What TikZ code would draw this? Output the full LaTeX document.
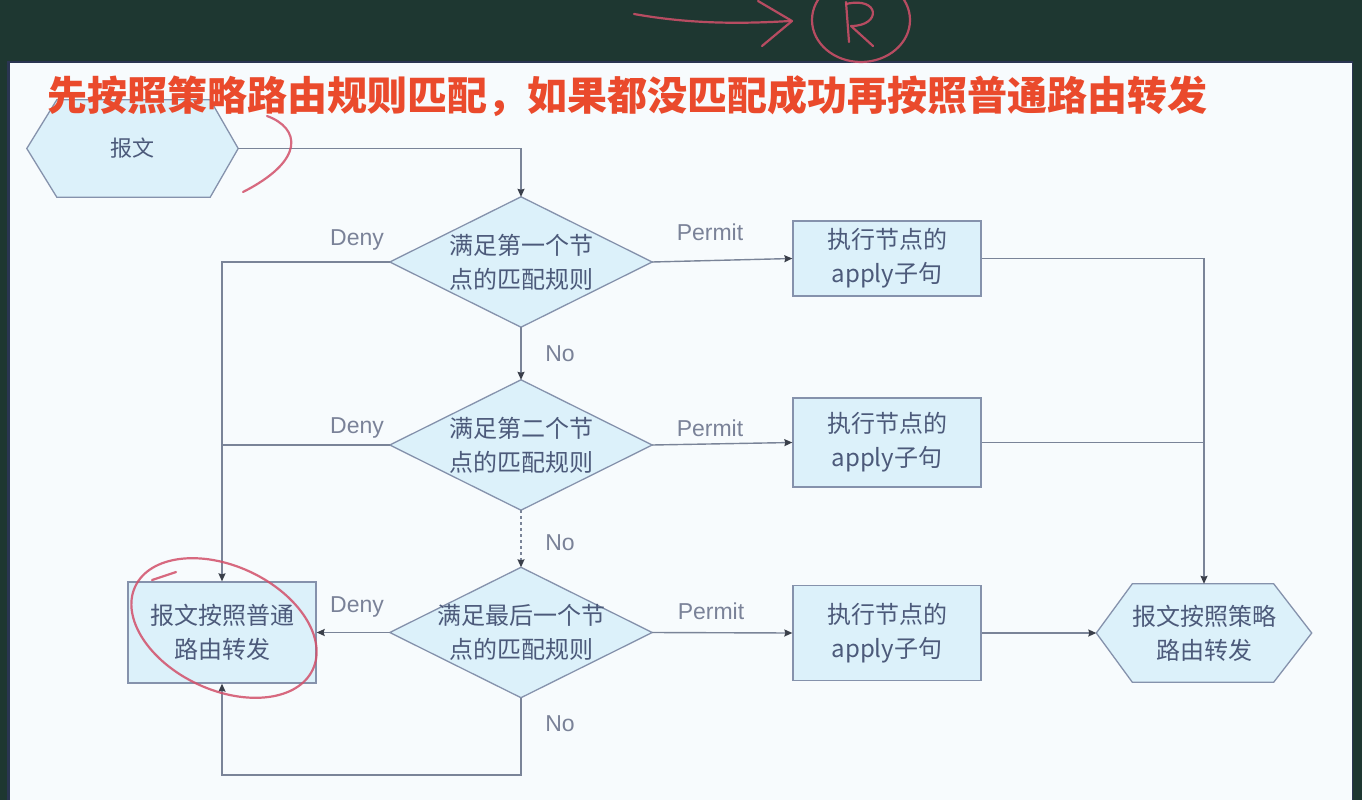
\documentclass[tikz,border=0pt]{standalone}
\usepackage{fontspec}
\setmainfont{Liberation Sans}
\newfontfamily\cjk{Noto Sans CJK SC}
\usetikzlibrary{calc,arrows.meta}
\definecolor{bgdark}{HTML}{1E3731}
\definecolor{slidec}{HTML}{F7FBFD}
\definecolor{fillc}{HTML}{DCF1FA}
\definecolor{edgec}{HTML}{8592AC}
\definecolor{linec}{HTML}{7A8498}
\definecolor{txtc}{HTML}{4C5A7A}
\definecolor{labc}{HTML}{7A8298}
\definecolor{titlec}{HTML}{EA4A2C}
\definecolor{handc}{HTML}{D2506A}
\definecolor{tipc}{HTML}{3A3F4A}
\definecolor{slideedge}{HTML}{2A3552}
\pgfdeclarelayer{slide}
\pgfdeclarelayer{shapes}
\pgfsetlayers{slide,shapes,main}
\begin{document}
\begin{tikzpicture}[x=1pt,y=-1pt,
  cjktext/.style={font=\cjk\fontsize{24}{34}\selectfont, text=txtc, align=center},
  boxnode/.style={cjktext, rectangle, draw=edgec, fill=fillc, line width=1.3pt, minimum width=188pt, inner sep=0pt},
  framenode/.style={cjktext, rectangle, draw=none, inner sep=0pt},
  shapeline/.style={draw=edgec, fill=fillc, line width=1.3pt, line join=miter},
  lab/.style={font=\fontsize{23}{26}\selectfont, text=labc, inner sep=0pt},
  conn/.style={draw=linec, line width=1.4pt},
  arr/.style={conn, -{Stealth[length=8pt,width=7pt,inset=1pt,color=tipc,fill=tipc]}},
  hand/.style={draw=handc, opacity=0.85, line width=2.2pt, line cap=round, line join=round},
  title/.style={font=\cjk\bfseries\fontsize{40}{44}\selectfont, text=titlec, inner sep=0pt, anchor=west}
]
\useasboundingbox (0,0) rectangle (1362,800);
\begin{pgfonlayer}{slide}
  \fill[bgdark] (0,0) rectangle (1362,800);
  \fill[slideedge] (7,61) rectangle (1353,800);
  \fill[slidec] (10,63) rectangle (1352,800);
\end{pgfonlayer}

% nodes
\node[framenode, minimum width=211pt, minimum height=97pt, font=\cjk\fontsize{22}{30}\selectfont] (msg) at (132.5,148.5) {报文};
\node[framenode, minimum width=262pt, minimum height=130pt] (d1) at (521,262) {满足第一个节\\点的匹配规则};
\node[framenode, minimum width=262pt, minimum height=130pt] (d2) at (521,445) {满足第二个节\\点的匹配规则};
\node[framenode, minimum width=262pt, minimum height=130pt] (d3) at (521,632.5) {满足最后一个节\\点的匹配规则};
\node[boxnode, minimum height=75pt] (b1) at (887,258.5) {执行节点的\\apply子句};
\node[boxnode, minimum height=89pt] (b2) at (887,442.5) {执行节点的\\apply子句};
\node[boxnode, minimum height=95pt] (b3) at (887,633) {执行节点的\\apply子句};
\node[boxnode, minimum height=101pt] (nb) at (222,632.5) {报文按照普通\\路由转发};
\node[framenode, minimum width=215pt, minimum height=98pt] (pb) at (1204,633) {报文按照策略\\路由转发};

\begin{pgfonlayer}{shapes}
  \draw[shapeline] (msg.west) -- ($(msg.north west)+(30,0)$) -- ($(msg.north east)+(-28,0)$) -- (msg.east)
     -- ($(msg.south east)+(-28,0)$) -- ($(msg.south west)+(30,0)$) -- cycle;
  \draw[shapeline] (pb.west) -- ($(pb.north west)+(36,0)$) -- ($(pb.north east)+(-38,0)$) -- (pb.east)
     -- ($(pb.south east)+(-38,0)$) -- ($(pb.south west)+(36,0)$) -- cycle;
  \foreach \d in {d1,d2,d3}
    \draw[shapeline] (\d.north) -- (\d.east) -- (\d.south) -- (\d.west) -- cycle;
\end{pgfonlayer}

% labels
\node[lab] (ld1) at (357,240) {Deny};
\node[lab] (ld2) at (357,428) {Deny};
\node[lab] (ld3) at (357,607) {Deny};
\node[lab] (lp1) at (710,232) {Permit};
\node[lab] (lp2) at (710,428) {Permit};
\node[lab] (lp3) at (711,611) {Permit};
\node[lab] (ln1) at (560,354) {No};
\node[lab] (ln2) at (560,543) {No};
\node[lab] (ln3) at (560,724) {No};

% connectors
\draw[arr] (msg.east) -| (d1.north);
\draw[arr] (d1.south) -- (d2.north);
\draw[arr, dashed] (d2.south) -- (d3.north);
\draw[arr] (d1.east) -- (b1.west);
\draw[arr] (d2.east) -- (b2.west);
\draw[arr] (d3.east) -- (b3.west);
\draw[arr] (b3.east) -- (pb.west);
\draw[arr] (b1.east) -| (pb.north);
\draw[conn] (b2.east) -- (b2.east -| pb.north);
\draw[arr] (d1.west) -| (nb.north);
\draw[conn] (d2.west) -- (d2.west -| nb.north);
\draw[arr] (d3.west) -- (nb.east);
\coordinate (loop) at (521,775);
\draw[arr] (d3.south) -- (loop) -| (nb.south);

% title
\node[title] (ttl) at (47,96) {先按照策略路由规则匹配，如果都没匹配成功再按照普通路由转发};

% hand-drawn annotations
\draw[hand] (634,14) .. controls (690,24) and (740,24) .. (790,21);
\draw[hand] (758,1) -- (792,21) -- (762,46);
\draw[hand] (861,20) ellipse [x radius=49, y radius=42];
\draw[hand] (846,2) -- (849,42);
\draw[hand] (846,4) .. controls (880,-4) and (882,26) .. (851,26) -- (873,46);
\draw[hand] (267,116) .. controls (300,128) and (306,160) .. (243,192);
\draw[hand, rotate around={-25:(224,628)}] (224,628) ellipse [x radius=98, y radius=62];
\draw[hand] (152,580) -- (176,572);
\end{tikzpicture}
\end{document}
